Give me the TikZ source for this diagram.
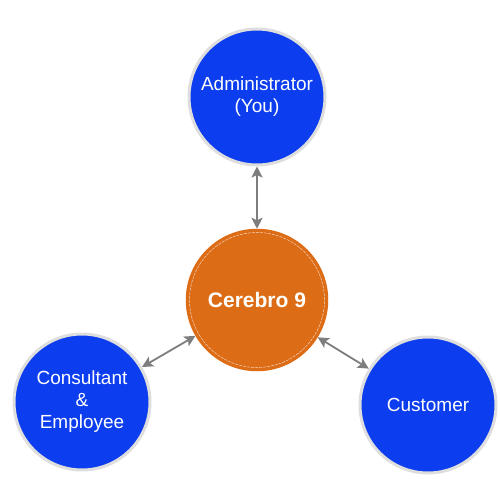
\documentclass[tikz,border=0pt]{standalone}
\usepackage{fontspec}
\setmainfont{Liberation Sans}
\usetikzlibrary{arrows.meta}
\definecolor{roleblue}{RGB}{12,61,238}
\definecolor{rolering}{RGB}{222,222,222}
\definecolor{huborange}{RGB}{221,108,22}
\definecolor{linkgray}{RGB}{125,125,125}
\begin{document}
\begin{tikzpicture}[x=1pt,y=-1pt,
  role/.style={circle,fill=roleblue,draw=rolering,line width=3pt,minimum size=136pt,inner sep=0pt,
    text=white,align=center,font=\fontsize{19}{22}\selectfont},
  hub/.style={circle,fill=huborange,draw=huborange,line width=1.5pt,minimum size=141pt,inner sep=0pt,
    text=white,font=\fontsize{21}{24}\selectfont\bfseries},
  link/.style={draw=linkgray,line width=1.8pt,{Stealth[length=11pt,width=11pt,inset=2.5pt]}-{Stealth[length=11pt,width=11pt,inset=2.5pt]}}
]
\useasboundingbox (0,0) rectangle (500,494);
\fill[white] (0,0) rectangle (500,494);
\node[role] (admin) at (257,97) {\raisebox{-3pt}{Administrator}\\\raisebox{-3pt}{(You)}};
\node[hub] (hub) at (257,300) {Cerebro 9};
\draw[white,line width=0.5pt,dash pattern=on 3pt off 1pt,opacity=0.7] (hub.center) circle (67.5pt);
\node[role] (cons) at (82,402) {\raisebox{-2pt}{Consultant}\\\raisebox{-2pt}{\&}\\\raisebox{-2pt}{Employee}};
\node[role] (cust) at (428,405) {Customer};
\draw[link] (admin) -- (hub);
\draw[link] (cons) -- (hub);
\draw[link] (cust) -- (hub);
\end{tikzpicture}
\end{document}
